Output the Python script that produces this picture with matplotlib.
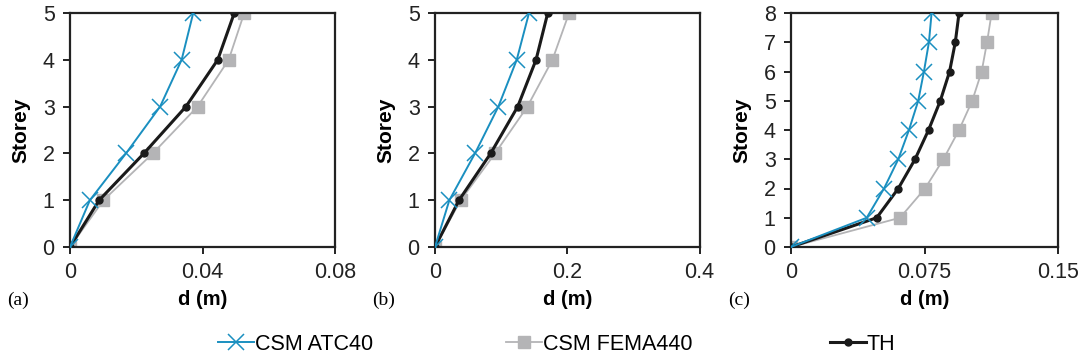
import matplotlib.pyplot as plt
from matplotlib.lines import Line2D

plt.rcParams["font.family"] = ["Liberation Sans", "DejaVu Sans"]

# Storey displacement profiles, three buildings
storeys_5 = [0, 1, 2, 3, 4, 5]
storeys_8 = [0, 1, 2, 3, 4, 5, 6, 7, 8]

atc40_a = [0, 0.0060, 0.0169, 0.0272, 0.0337, 0.0372]
fema440_a = [0, 0.0101, 0.0250, 0.0385, 0.0479, 0.0526]
th_a = [0, 0.0088, 0.0223, 0.0350, 0.0446, 0.0496]

atc40_b = [0, 0.0217, 0.0605, 0.0958, 0.1236, 0.1422]
fema440_b = [0, 0.0388, 0.0908, 0.1397, 0.1776, 0.2028]
th_b = [0, 0.0363, 0.0842, 0.1251, 0.1528, 0.1705]

atc40_c = [0, 0.0425, 0.0522, 0.0602, 0.0662, 0.0714, 0.0746, 0.0774, 0.0789]
fema440_c = [0, 0.0612, 0.0752, 0.0855, 0.0943, 0.1017, 0.1070, 0.1100, 0.1126]
th_c = [0, 0.0481, 0.0602, 0.0696, 0.0772, 0.0838, 0.0890, 0.0922, 0.0943]

panels = [
    ("(a)", storeys_5, atc40_a, fema440_a, th_a, [0, 0.04, 0.08], ["0", "0.04", "0.08"]),
    ("(b)", storeys_5, atc40_b, fema440_b, th_b, [0, 0.2, 0.4], ["0", "0.2", "0.4"]),
    ("(c)", storeys_8, atc40_c, fema440_c, th_c, [0, 0.075, 0.15], ["0", "0.075", "0.15"]),
]

BLUE = "#1a8fc0"
GREY = "#b4b4b6"
BLACK = "#1a1a1a"
SPINE = "#222222"

atc_style = dict(color=BLUE, lw=1.4, marker="x", ms=11, mew=1.1)
fema_style = dict(color=GREY, lw=1.3, marker="s", ms=9, mec=GREY, mfc=GREY)
th_style = dict(color=BLACK, lw=2.2, marker="o", ms=5, mec=BLACK, mfc=BLACK)

fig = plt.figure(figsize=(10.82, 3.62), dpi=100)
lefts = [70 / 1082, 435 / 1082, 791 / 1082]
widths = [265 / 1082, 264.5 / 1082, 267.3 / 1082]
bottom = (362 - 247) / 362
height = 234 / 362

for (tag, st, atc, fema, th, xt, xtl), left, w in zip(panels, lefts, widths):
    ax = fig.add_axes([left, bottom, w, height])
    ax.plot(fema, st, zorder=2, **fema_style)
    ax.plot(th, st, zorder=3, **th_style)
    ax.plot(atc, st, zorder=4, **atc_style)
    ax.set_xlim(xt[0], xt[-1])
    ax.set_ylim(0, st[-1])
    ax.set_xticks(xt)
    ax.set_xticklabels(xtl)
    ax.set_yticks(st)
    for s in ax.spines.values():
        s.set_color(SPINE)
        s.set_linewidth(1.6)
    ax.tick_params(axis="both", direction="out", length=5, width=1.4, color=SPINE,
                   labelsize=15.5, labelcolor="#222222", pad=6)
    ax.set_xlabel("d (m)", fontsize=14.5, fontweight="bold", labelpad=5)
    ax.set_ylabel("Storey", fontsize=15, fontweight="bold", labelpad=9)
    for lab in ax.get_xticklabels() + ax.get_yticklabels():
        lab.set_clip_on(False)
    fig.text(left - 63 / 1082, (362 - 300) / 362, tag, fontsize=14,
             family=["Liberation Serif", "DejaVu Serif"], va="center", ha="left")

# Legend entries spread along the bottom
entries = [
    (Line2D([], [], **atc_style), "CSM ATC40", 218),
    (Line2D([], [], **fema_style), "CSM FEMA440", 506),
    (Line2D([], [], **th_style), "TH", 830),
]
for handle, label, xpix in entries:
    fig.legend([handle], [label], loc="center left",
               bbox_to_anchor=(xpix / 1082, (362 - 344) / 362),
               frameon=False, fontsize=15.5, handlelength=1.65, handletextpad=0.05,
               borderpad=0, borderaxespad=0)

fig.savefig("out.png", dpi=100)
